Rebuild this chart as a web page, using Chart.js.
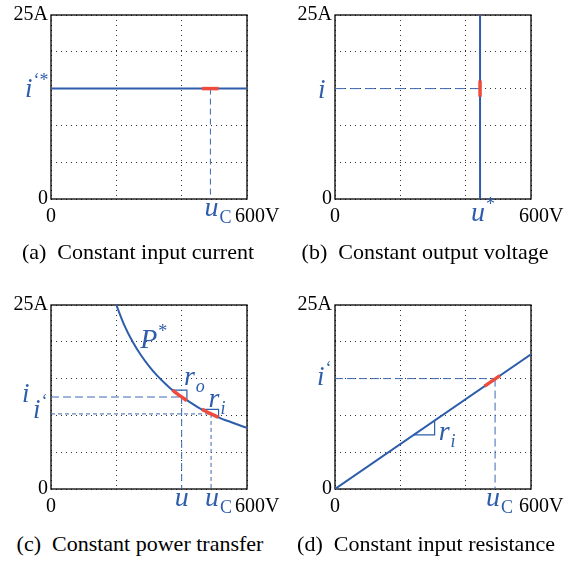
<!DOCTYPE html>
<html><head><meta charset="utf-8">
<script src="https://cdn.jsdelivr.net/npm/chart.js@4/dist/chart.umd.min.js"></script>
<style>
html,body{margin:0;padding:0;background:#fff;width:575px;height:563px;overflow:hidden;position:relative;}
canvas{position:absolute;}
.cap{position:absolute;font-family:"Liberation Serif",serif;font-size:22px;line-height:24px;white-space:nowrap;color:#000;transform:translateX(-50%);}
</style></head><body>
<canvas id="ca" width="290" height="240" style="left:0px;top:0px"></canvas>
<canvas id="cb" width="290" height="240" style="left:284px;top:0px"></canvas>
<canvas id="cc" width="290" height="240" style="left:0px;top:290px"></canvas>
<canvas id="cd" width="290" height="240" style="left:284px;top:290px"></canvas>
<div class="cap" style="left:138px;top:240px">(a)&nbsp; Constant input current</div>
<div class="cap" style="left:425px;top:240px">(b)&nbsp; Constant output voltage</div>
<div class="cap" style="left:140px;top:532px">(c)&nbsp; Constant power transfer</div>
<div class="cap" style="left:426px;top:532px">(d)&nbsp; Constant input resistance</div>
<script>
// ---- axes ----
const voltageMin = 0, voltageMax = 600;      // V
const currentMin = 0, currentMax = 25;       // A
const voltageGrid = [0, 200, 400, 600];
const currentGrid = [0, 5, 10, 15, 20, 25];
const xTickText = ['0', '600V'];
const yTickText = ['0', '25A'];

// ---- (a) constant input current ----
const aLineU = [0, 600];
const aLineI = [15, 15];
const aOpU = [462, 513];
const aOpI = [15, 15];
const aUC = 488;

// ---- (b) constant output voltage ----
const bLineU = [444, 444];
const bLineI = [0, 25];
const bOpU = [444, 444];
const bOpI = [13.9, 16.1];
const bI = 15;

// ---- (c) constant power transfer (P* curve) ----
const cCurveU = [200, 225, 250, 275, 300, 325, 350, 375, 400, 425, 450, 475, 500, 525, 550, 575, 600];
const cCurveI = [25, 22.2, 20, 18.2, 16.7, 15.4, 14.3, 13.3, 12.5, 11.8, 11.1, 10.5, 10, 9.5, 9.1, 8.7, 8.3];
const cOpOutU = [372, 395, 416];
const cOpOutI = [13.44, 12.66, 12.02];
const cOpInU = [462, 488, 513];
const cOpInI = [10.82, 10.25, 9.75];
const cTriOutU = [372, 416, 416];
const cTriOutI = [13.44, 13.44, 12.02];
const cTriInU = [462, 513, 513];
const cTriInI = [10.82, 10.82, 9.75];
const cU = 400, cI = 12.5;
const cUC = 490, cIC = 10.2;
const cPLabelU = 273, cPLabelI = 19.2;

// ---- (d) constant input resistance ----
const dLineU = [0, 600];
const dLineI = [0, 18.3];
const dOpU = [458, 505];
const dOpI = [13.97, 15.4];
const dTriU = [241, 305, 305];
const dTriI = [7.35, 7.35, 9.3];
const dUC = 490, dIC = 15;

const BLUE = '#2d5dab';
const DASHBLUE = '#3c69b4';
const RED = '#ef4b3d';
const SERIF = '"Liberation Serif", "Times New Roman", serif';

function pts(u, i) { return u.map((v, k) => ({ x: v, y: i[k] })); }
function ln(u, i, color, width, dash, smooth) {
  return { data: pts(u, i), borderColor: color, borderWidth: width, borderDash: dash || [],
    showLine: true, pointRadius: 0, fill: false, tension: 0,
    cubicInterpolationMode: smooth ? 'monotone' : 'default' };
}

function mtext(ctx, x, y, main, size, script, kind, scriptItalic) {
  ctx.save();
  ctx.fillStyle = BLUE; ctx.textBaseline = 'alphabetic'; ctx.textAlign = 'left';
  ctx.font = 'italic ' + size + 'px ' + SERIF;
  ctx.fillText(main, x, y);
  const w = ctx.measureText(main).width;
  if (script) {
    ctx.font = (scriptItalic ? 'italic ' : '') + '18px ' + SERIF;
    ctx.fillText(script, x + w + 1, y + (kind === 'sub' ? 7 : -11));
  }
  ctx.restore();
}

function makeChart(id, datasets, drawLabels) {
  const annot = {
    id: 'annot',
    beforeDatasetsDraw(chart) {
      const a = chart.chartArea, ctx = chart.ctx;
      ctx.save(); ctx.strokeStyle = '#000'; ctx.lineWidth = 1.3;
      ctx.strokeRect(Math.round(a.left), Math.round(a.top), Math.round(a.right - a.left), Math.round(a.bottom - a.top));
      ctx.restore();
    },
    afterDraw(chart) {
      const ctx = chart.ctx, a = chart.chartArea, xs = chart.scales.x, ys = chart.scales.y;
      ctx.save();
      ctx.fillStyle = '#000'; ctx.font = '20px ' + SERIF; ctx.textBaseline = 'alphabetic';
      ctx.textAlign = 'center';
      ctx.fillText(xTickText[0], xs.getPixelForValue(voltageMin), a.bottom + 23);
      ctx.textAlign = 'left';
      ctx.fillText(xTickText[1], xs.getPixelForValue(voltageMax) - 12, a.bottom + 23);
      ctx.restore();
      drawLabels(ctx, a, xs, ys);
    }
  };
  return new Chart(document.getElementById(id), {
    type: 'scatter',
    data: { datasets },
    plugins: [annot],
    options: {
      responsive: false, animation: false, events: [],
      layout: { padding: { top: 9, right: 43, left: 0, bottom: 0 } },
      plugins: { legend: { display: false }, tooltip: { enabled: false } },
      scales: {
        x: {
          type: 'linear', min: voltageMin, max: voltageMax,
          afterBuildTicks: s => { s.ticks = voltageGrid.map(v => ({ value: v })); },
          afterFit: s => { s.height = 41; },
          ticks: { display: false },
          grid: { color: '#333', lineWidth: 1, drawTicks: false },
          border: { display: false, dash: [1, 4] }
        },
        y: {
          type: 'linear', min: currentMin, max: currentMax,
          afterBuildTicks: s => { s.ticks = currentGrid.map(v => ({ value: v })); },
          afterFit: s => { s.width = 51; },
          ticks: {
            callback: v => v === currentMax ? yTickText[1] : (v === currentMin ? yTickText[0] : ''),
            font: { family: SERIF, size: 20 }, color: '#000', padding: 3
          },
          grid: { color: '#333', lineWidth: 1, drawTicks: false },
          border: { display: false, dash: [1, 4] }
        }
      }
    }
  });
}

// (a)
makeChart('ca', [
  ln(aOpU, aOpI, RED, 3.5),
  ln(aLineU, aLineI, BLUE, 2),
  ln([aUC, aUC], [aLineI[0], currentMin], DASHBLUE, 1, [6, 4])
], (ctx, a, xs, ys) => {
  mtext(ctx, a.left - 26, ys.getPixelForValue(aLineI[0]) + 8, 'i', 27, '\u2018*', 'sup', false);
  mtext(ctx, xs.getPixelForValue(aUC) - 6, a.bottom + 17, 'u', 28, 'C', 'sub', false);
});

// (b)
makeChart('cb', [
  ln(bOpU, bOpI, RED, 3.5),
  ln(bLineU, bLineI, BLUE, 2),
  ln([voltageMin, bLineU[0]], [bI, bI], DASHBLUE, 1, [10, 5])
], (ctx, a, xs, ys) => {
  mtext(ctx, a.left - 17, ys.getPixelForValue(bI) + 9, 'i', 27);
  mtext(ctx, xs.getPixelForValue(bLineU[0]) - 9, a.bottom + 22, 'u', 28, '*', 'sup', false);
});

// (c)
makeChart('cc', [
  ln(cOpOutU, cOpOutI, RED, 3.5, null, true),
  ln(cOpInU, cOpInI, RED, 3.5, null, true),
  ln(cCurveU, cCurveI, BLUE, 2, null, true),
  ln(cTriOutU, cTriOutI, BLUE, 1.2),
  ln(cTriInU, cTriInI, BLUE, 1.2),
  ln([voltageMin, cU], [cI, cI], DASHBLUE, 1, [8, 4]),
  ln([cU, cU], [cI, currentMin], DASHBLUE, 1, [7, 4]),
  ln([voltageMin, cUC], [cIC, cIC], DASHBLUE, 1, [4, 3]),
  ln([cUC, cUC], [cIC, currentMin], DASHBLUE, 1, [4, 3])
], (ctx, a, xs, ys) => {
  mtext(ctx, xs.getPixelForValue(cPLabelU), ys.getPixelForValue(cPLabelI), 'P', 28, '*', 'sup', false);
  mtext(ctx, xs.getPixelForValue(cTriOutU[1]) - 3, ys.getPixelForValue(cTriOutI[1]) - 5, 'r', 28, 'o', 'sub', true);
  mtext(ctx, xs.getPixelForValue(cTriInU[1]) - 10, ys.getPixelForValue(cTriInI[1]) - 2, 'r', 28, 'i', 'sub', true);
  mtext(ctx, a.left - 29, ys.getPixelForValue(cI) + 5, 'i', 27);
  mtext(ctx, a.left - 18, ys.getPixelForValue(cIC) + 4, 'i', 27, '\u2018', 'sup', false);
  ctx.save(); ctx.font = 'italic 28px ' + SERIF; const wu = ctx.measureText('u').width; ctx.restore();
  mtext(ctx, xs.getPixelForValue(cU) - wu / 2, a.bottom + 17, 'u', 28);
  mtext(ctx, xs.getPixelForValue(cUC) - 6, a.bottom + 17, 'u', 28, 'C', 'sub', false);
});

// (d)
makeChart('cd', [
  ln(dOpU, dOpI, RED, 3.5),
  ln(dLineU, dLineI, BLUE, 2),
  ln(dTriU, dTriI, BLUE, 1.2),
  ln([voltageMin, dUC], [dIC, dIC], DASHBLUE, 1, [8, 4]),
  ln([dUC, dUC], [dIC, currentMin], DASHBLUE, 1, [8, 4])
], (ctx, a, xs, ys) => {
  mtext(ctx, a.left - 18, ys.getPixelForValue(dIC) + 6, 'i', 27, '\u2018', 'sup', false);
  mtext(ctx, xs.getPixelForValue(dUC) - 9, a.bottom + 17, 'u', 28, 'C', 'sub', false);
  mtext(ctx, xs.getPixelForValue(dTriU[1]) + 4, ys.getPixelForValue(dTriI[0]) + 5, 'r', 28, 'i', 'sub', true);
});
</script>
</body></html>
